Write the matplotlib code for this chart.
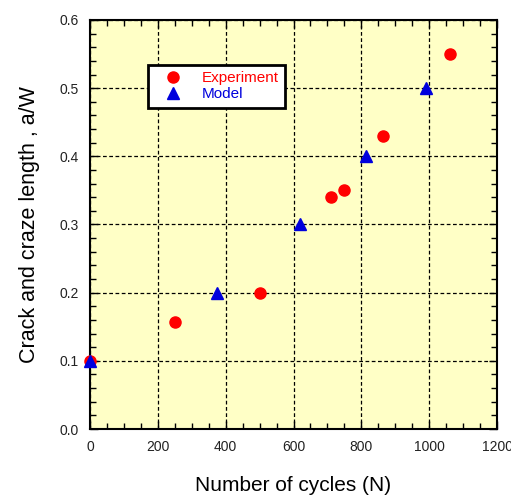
import matplotlib
matplotlib.use("Agg")
import matplotlib.pyplot as plt
from matplotlib.ticker import MultipleLocator

plt.rcParams['font.family'] = ['Liberation Sans', 'DejaVu Sans']

exp_n = [0, 250, 500, 710, 750, 865, 1060]
exp_aw = [0.1, 0.157, 0.2, 0.34, 0.35, 0.43, 0.55]

mod_n = [0, 375, 620, 815, 990]
mod_aw = [0.1, 0.2, 0.3, 0.4, 0.5]

fig = plt.figure(figsize=(5.11, 4.98), dpi=100)
ax = fig.add_axes([90/511, 69/498, 407/511, 409/498])
ax.set_facecolor('#ffffc6')

ax.plot(exp_n, exp_aw, 'o', color='#ff0000', markersize=8, label='Experiment',
        clip_on=False, zorder=3)
ax.plot(mod_n, mod_aw, '^', color='#0000dd', markersize=9, label='Model',
        clip_on=False, zorder=4)

ax.set_xlim(0, 1200)
ax.set_ylim(0, 0.6)
ax.xaxis.set_major_locator(MultipleLocator(200))
ax.xaxis.set_minor_locator(MultipleLocator(50))
ax.yaxis.set_major_locator(MultipleLocator(0.1))
ax.yaxis.set_minor_locator(MultipleLocator(0.02))
ax.yaxis.set_major_formatter(lambda v, p: f"{v:.1f}")
ax.tick_params(which='both', direction='in', top=True, right=True, labelsize=10,
               pad=8, labelcolor='#222222')
ax.tick_params(which='major', length=6, width=1)
ax.tick_params(which='minor', length=4, width=1)
ax.grid(True, which='major', color='black', linestyle=(0, (3, 2)), linewidth=0.9)
for s in ax.spines.values():
    s.set_linewidth(1.5)

ax.set_xlabel('Number of cycles (N)', fontsize=15, labelpad=16)
ax.set_ylabel('Crack and craze length , a/W', fontsize=15.5, labelpad=14)

leg = ax.legend(loc='upper left', bbox_to_anchor=(58/407, 1 - 45/409), fontsize=11,
                fancybox=False, framealpha=1, edgecolor='black', borderpad=0.4,
                handletextpad=0.6, labelspacing=0.15, borderaxespad=0,
                handlelength=2.5)
leg.get_frame().set_linewidth(2)
leg.get_texts()[0].set_color('#ff0000')
leg.get_texts()[1].set_color('#0000dd')

fig.savefig('out.png', dpi=100)
